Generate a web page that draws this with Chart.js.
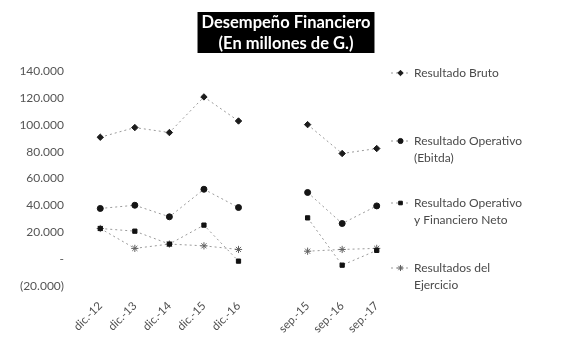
<!DOCTYPE html>
<html>
<head>
<meta charset="utf-8">
<script src="https://cdn.jsdelivr.net/npm/chart.js@4/dist/chart.umd.min.js"></script>
<style>
  html, body { margin: 0; padding: 0; background: #ffffff; }
  #wrap { width: 566px; height: 343px; }
</style>
</head>
<body>
<div id="wrap"><canvas id="c" width="566" height="343"></canvas></div>
<script>
// Periods: five year-end closes, a spacer, then three September cuts
const categories = ['dic.-12', 'dic.-13', 'dic.-14', 'dic.-15', 'dic.-16', '', 'sep.-15', 'sep.-16', 'sep.-17'];

// Results in millions of guaraníes
const resultadoBruto      = [90700, 97900, 94200, 120700, 102800, null, 100100, 78600, 82300];
const resultadoOperativo  = [37700, 40100, 31500, 52000, 38400, null, 49600, 26500, 39600];
const operativoFinanciero = [22800, 20800, 11200, 25300, -1500, null, 30700, -4500, 6500];
const resultadoEjercicio  = [22800, 8000, 11200, 9900, 7200, null, 5900, 7200, 8000];

const seriesNames = [
  ['Resultado Bruto'],
  ['Resultado Operativo', '(Ebitda)'],
  ['Resultado Operativo', 'y Financiero Neto'],
  ['Resultados del', 'Ejercicio']
];
const titleLines = ['Desempeño Financiero', '(En millones de G.)'];
const yMin = -20000, yMax = 140000, yStep = 20000;

const FONT = 'Lato, "Open Sans", sans-serif';

function thousands(v) {
  return String(Math.round(v)).replace(/\B(?=(\d{3})+(?!\d))/g, '.');
}
function formatTick(v) {
  if (v === 0) return '-';
  if (v < 0) return '(' + thousands(-v) + ')';
  return thousands(v);
}

function series(label, data, style, radius, fill, border) {
  return {
    label: label.join(' '),
    legendLines: label,
    data: data,
    borderColor: '#9a9a9a',
    borderWidth: 1,
    borderDash: [2, 3],
    pointStyle: style,
    pointRadius: radius,
    pointHoverRadius: radius,
    pointBackgroundColor: fill,
    pointBorderColor: border,
    pointBorderWidth: 1,
    spanGaps: false,
    tension: 0
  };
}

const datasets = [
  series(seriesNames[0], resultadoBruto, 'rectRot', 3.2, '#1c1c1c', '#1c1c1c'),
  series(seriesNames[1], resultadoOperativo, 'circle', 3, '#151515', '#151515'),
  series(seriesNames[2], operativoFinanciero, 'rect', 3, '#111111', '#111111'),
  series(seriesNames[3], resultadoEjercicio, 'star', 3.6, '#6a6a6a', '#606060')
];

// Black title box with white bold lettering
const titleBox = {
  id: 'titleBox',
  afterDraw(chart, args, opts) {
    const ctx = chart.ctx;
    ctx.save();
    ctx.font = 'bold ' + opts.fontSize + 'px ' + FONT;
    const w = Math.max.apply(null, titleLines.map(t => ctx.measureText(t).width)) + 8;
    const cx = opts.centerX;
    const top = opts.top, h = opts.height;
    ctx.fillStyle = '#000000';
    ctx.fillRect(cx - w / 2, top, w, h);
    ctx.fillStyle = '#ffffff';
    ctx.textAlign = 'center';
    ctx.textBaseline = 'middle';
    titleLines.forEach((t, i) => ctx.fillText(t, cx, top + h * (i + 0.5) / titleLines.length + 0.5));
    ctx.restore();
  }
};

// Legend on the right with wrapped entry names
const sideLegend = {
  id: 'sideLegend',
  afterDraw(chart, args, opts) {
    const ctx = chart.ctx;
    ctx.save();
    ctx.font = opts.fontSize + 'px ' + FONT;
    ctx.textBaseline = 'middle';
    ctx.textAlign = 'left';
    chart.data.datasets.forEach((ds, i) => {
      const y = opts.rows[i];
      const x0 = opts.x;
      ctx.strokeStyle = ds.borderColor;
      ctx.lineWidth = 1;
      ctx.setLineDash(ds.borderDash);
      ctx.beginPath();
      ctx.moveTo(x0, y);
      ctx.lineTo(x0 + opts.sampleWidth, y);
      ctx.stroke();
      ctx.setLineDash([]);
      ctx.fillStyle = ds.pointBackgroundColor;
      ctx.strokeStyle = ds.pointBorderColor;
      Chart.helpers.drawPoint(ctx, {
        pointStyle: ds.pointStyle,
        radius: ds.pointRadius * 0.85,
        rotation: 0,
        borderWidth: ds.pointBorderWidth
      }, x0 + opts.sampleWidth / 2, y);
      ctx.fillStyle = opts.color;
      ds.legendLines.forEach((line, j) => {
        ctx.fillText(line, x0 + opts.sampleWidth + opts.gap, y + j * opts.lineHeight);
      });
    });
    ctx.restore();
  }
};

new Chart(document.getElementById('c'), {
  type: 'line',
  data: { labels: categories, datasets: datasets },
  plugins: [titleBox, sideLegend],
  options: {
    responsive: false,
    animation: false,
    devicePixelRatio: 1,
    layout: { padding: { top: 71, right: 172, left: 0, bottom: 0 } },
    plugins: {
      legend: { display: false },
      title: { display: false },
      tooltip: { enabled: false },
      titleBox: { centerX: 286, top: 12, height: 41, fontSize: 16.5 },
      sideLegend: { x: 391, rows: [73, 141, 203, 268], sampleWidth: 19, gap: 4, lineHeight: 17, fontSize: 12, color: '#4a4a4a' }
    },
    scales: {
      x: {
        offset: true,
        grid: { display: false },
        border: { display: false },
        ticks: {
          color: '#505050',
          font: { family: FONT, size: 11.5 },
          minRotation: 45,
          maxRotation: 45,
          padding: 5,
          autoSkip: false
        },
        afterFit(scale) { scale.height = 57; }
      },
      y: {
        min: yMin,
        max: yMax,
        grid: { display: false },
        border: { display: false },
        ticks: {
          stepSize: yStep,
          color: '#555555',
          font: { family: FONT, size: 12 },
          padding: 11,
          callback: (v) => formatTick(v)
        },
        afterFit(scale) { scale.width = 83; }
      }
    }
  }
});
</script>
</body>
</html>
